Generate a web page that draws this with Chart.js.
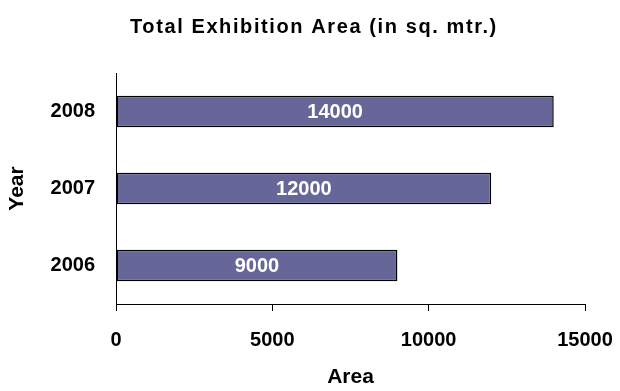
<!DOCTYPE html>
<html>
<head>
<meta charset="utf-8">
<script src="https://cdn.jsdelivr.net/npm/chart.js@4/dist/chart.umd.min.js"></script>
<style>
  html, body { margin: 0; padding: 0; background: #fff; }
  #wrap { width: 620px; height: 391px; }
</style>
</head>
<body>
<div id="wrap"><canvas id="c" width="620" height="391"></canvas></div>
<script>
// Exhibition area per year
const years = ['2008', '2007', '2006'];
const areas = [14000, 12000, 9000];
const areaTicks = [0, 5000, 10000, 15000];

const chartTitle = 'Total Exhibition Area (in sq. mtr.)';
const xTitle = 'Area';
const yTitle = 'Year';

const FONT = "'Liberation Sans', Arial, Helvetica, sans-serif";

// Heading above the plot, slightly letter-spaced
const headingText = {
  id: 'headingText',
  afterDraw(chart) {
    const ctx = chart.ctx;
    ctx.save();
    ctx.font = "bold 20px " + FONT;
    if ('letterSpacing' in ctx) ctx.letterSpacing = '1.6px';
    ctx.fillStyle = '#000';
    ctx.textAlign = 'left';
    ctx.textBaseline = 'alphabetic';
    ctx.fillText(chartTitle, 130, 33);
    ctx.restore();
  }
};

// Writes each bar's value in white, centred inside the bar
const barValueLabels = {
  id: 'barValueLabels',
  afterDatasetsDraw(chart) {
    const ctx = chart.ctx;
    const meta = chart.getDatasetMeta(0);
    const values = chart.data.datasets[0].data;
    ctx.save();
    ctx.font = "bold 20px " + FONT;
    ctx.fillStyle = '#ffffff';
    ctx.textAlign = 'center';
    ctx.textBaseline = 'middle';
    meta.data.forEach((bar, i) => {
      const cx = (bar.x + bar.base) / 2;
      ctx.fillText(String(values[i]), cx, bar.y + 1);
    });
    ctx.restore();
  }
};

new Chart(document.getElementById('c'), {
  type: 'bar',
  data: {
    labels: years,
    datasets: [{
      data: areas,
      backgroundColor: '#666699',
      borderColor: '#000000',
      borderWidth: 1.5,
      borderSkipped: false,
      barPercentage: 0.41,
      categoryPercentage: 1.0
    }]
  },
  options: {
    indexAxis: 'y',
    responsive: false,
    animation: false,
    layout: { padding: { left: 0, right: 35, top: 73, bottom: 0 } },
    plugins: {
      legend: { display: false },
      tooltip: { enabled: false },
      title: { display: false }
    },
    scales: {
      x: {
        type: 'linear',
        min: 0,
        max: 15000,
        afterBuildTicks(scale) {
          scale.ticks = areaTicks.map(v => ({ value: v }));
        },
        afterFit(scale) {
          scale.height = 87;
          // the fixed right margin already leaves room for the last label
          scale.paddingLeft = 0;
          scale.paddingRight = 0;
        },
        grid: {
          drawOnChartArea: false,
          drawTicks: true,
          tickLength: 7,
          color: '#000',
          lineWidth: 1
        },
        border: { display: true, color: '#000', width: 1 },
        ticks: {
          color: '#000',
          padding: 17,
          maxRotation: 0,
          font: { family: FONT, size: 20, weight: 'bold' },
          callback: (v) => String(v)
        },
        title: {
          display: true,
          text: xTitle,
          color: '#000',
          font: { family: FONT, size: 21, weight: 'bold' },
          padding: { top: 4, bottom: 1 }
        }
      },
      y: {
        afterFit(scale) { scale.width = 116; },
        grid: { drawOnChartArea: false, drawTicks: false },
        border: { display: true, color: '#000', width: 1 },
        ticks: {
          color: '#000',
          padding: 21,
          font: { family: FONT, size: 20, weight: 'bold' }
        },
        title: {
          display: true,
          text: yTitle,
          color: '#000',
          font: { family: FONT, size: 21, weight: 'bold' },
          padding: { top: 5, bottom: 4 }
        }
      }
    }
  },
  plugins: [barValueLabels, headingText]
});
</script>
</body>
</html>
